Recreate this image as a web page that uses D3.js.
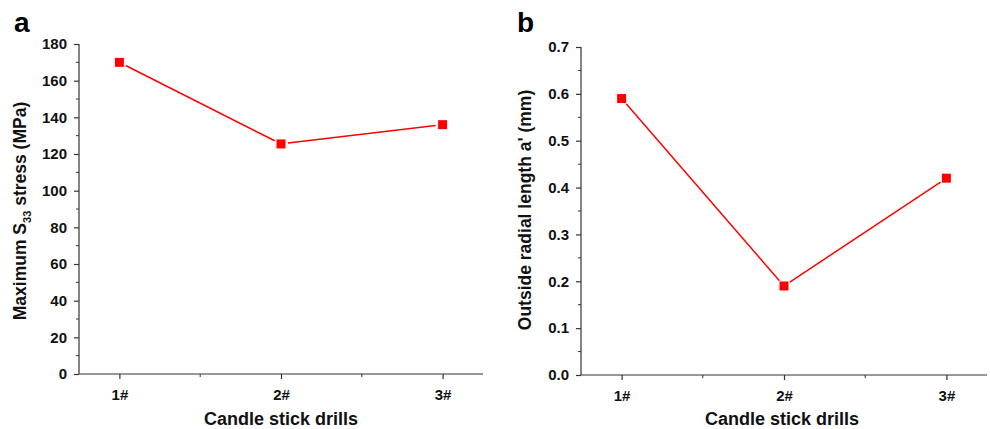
<!DOCTYPE html>
<html>
<head>
<meta charset="utf-8">
<script src="https://cdn.jsdelivr.net/npm/d3@7"></script>
<style>
  body { margin: 0; background: #fff; }
  text { font-family: Arial, 'Liberation Sans', sans-serif; font-weight: bold; }
</style>
</head>
<body>
<div id="chart"></div>
<script>
// data
let drills = ['1#', '2#', '3#']
let stress = [170, 125.5, 136]
let radialLength = [0.59, 0.19, 0.42]
let stressTicks = [0, 20, 40, 60, 80, 100, 120, 140, 160, 180]
let lengthTicks = [0, 0.1, 0.2, 0.3, 0.4, 0.5, 0.6, 0.7]

let width = 990
let height = 429

let svg = d3
  .select('#chart')
  .append('svg')
  .attr('width', width)
  .attr('height', height)

let axisColor = '#333'

function drawPanel(opts) {
  let g = svg.append('g')

  let x = d3.scaleLinear().domain([0.75, 3.25]).range([opts.left, opts.right])
  let y = d3.scaleLinear().domain(opts.domain).range([opts.bottom, opts.top])

  // y axis
  let yAxis = d3
    .axisLeft(y)
    .tickValues(opts.ticks)
    .tickFormat(opts.format)
    .tickSize(5)
    .tickPadding(7)
  let ya = g
    .append('g')
    .attr('transform', `translate(${opts.left},0)`)
    .call(yAxis)
  ya.select('.domain').attr('d', `M0,${opts.top}V${opts.bottom}`)

  // minor y ticks
  let minorY = d3.pairs(opts.ticks).map(p => (p[0] + p[1]) / 2)
  g.selectAll('.minor-y')
    .data(minorY)
    .enter()
    .append('line')
    .attr('x1', opts.left - 3)
    .attr('x2', opts.left)
    .attr('y1', d => y(d))
    .attr('y2', d => y(d))
    .attr('stroke', axisColor)

  // x axis
  let xAxis = d3
    .axisBottom(x)
    .tickValues([1, 2, 3])
    .tickFormat((d, i) => drills[i])
    .tickSize(5)
    .tickPadding(10)
  let xa = g
    .append('g')
    .attr('transform', `translate(0,${opts.bottom})`)
    .call(xAxis)
  xa.select('.domain').attr('d', `M${opts.left},0H${opts.right}`)

  g.selectAll('.minor-x')
    .data([1.5, 2.5])
    .enter()
    .append('line')
    .attr('x1', d => x(d))
    .attr('x2', d => x(d))
    .attr('y1', opts.bottom)
    .attr('y2', opts.bottom + 3)
    .attr('stroke', axisColor)

  g.selectAll('.domain, .tick line').attr('stroke', axisColor).attr('stroke-width', 1.2)
  g.selectAll('.tick text')
    .attr('fill', '#111')
    .style('font-size', '15px')
    .style('font-weight', 'bold')

  // line, broken a little at each marker like the original
  let pts = opts.values.map((v, i) => [x(i + 1), y(v)])
  d3.pairs(pts).forEach(([a, b]) => {
    let dx = b[0] - a[0]
    let dy = b[1] - a[1]
    let len = Math.sqrt(dx * dx + dy * dy)
    let gap = 7
    g.append('line')
      .attr('x1', a[0] + (dx / len) * gap)
      .attr('y1', a[1] + (dy / len) * gap)
      .attr('x2', b[0] - (dx / len) * gap)
      .attr('y2', b[1] - (dy / len) * gap)
      .attr('stroke', '#ff0000')
      .attr('stroke-width', 1.5)
  })

  g.selectAll('.marker')
    .data(opts.values)
    .enter()
    .append('rect')
    .attr('x', (d, i) => x(i + 1) - 4.5)
    .attr('y', d => y(d) - 4.5)
    .attr('width', 9)
    .attr('height', 9)
    .attr('fill', '#ff0000')

  // axis titles
  g.append('text')
    .attr('x', (opts.left + opts.right) / 2 + opts.titleShift)
    .attr('y', 425)
    .attr('text-anchor', 'middle')
    .style('font-size', '18px')
    .attr('fill', '#111')
    .text('Candle stick drills')

  let yl = g
    .append('text')
    .attr('transform', `translate(${opts.labelX},${opts.labelY}) rotate(-90)`)
    .attr('text-anchor', 'middle')
    .style('font-size', '17.5px')
    .attr('fill', '#111')
  opts.label(yl)

  // panel letter
  g.append('text')
    .attr('x', opts.letterX)
    .attr('y', 32)
    .style('font-size', '28px')
    .attr('fill', '#000')
    .text(opts.letter)
}

drawPanel({
  left: 79,
  right: 483,
  top: 44,
  bottom: 374,
  domain: [0, 180],
  ticks: stressTicks,
  format: d3.format('d'),
  values: stress,
  labelX: 26,
  labelY: 211,
  titleShift: 0,
  letter: 'a',
  letterX: 14,
  label: t => {
    t.append('tspan').text('Maximum S')
    t.append('tspan').style('font-size', '11px').attr('dy', 5).text('33')
    t.append('tspan').attr('dy', -5).text(' stress (MPa)')
  }
})

drawPanel({
  left: 581,
  right: 987,
  top: 47,
  bottom: 375,
  domain: [0, 0.7],
  ticks: lengthTicks,
  format: d3.format('.1f'),
  values: radialLength,
  labelX: 531,
  labelY: 210,
  titleShift: -2,
  letter: 'b',
  letterX: 517,
  label: t => {
    t.text("Outside radial length a' (mm)")
  }
})
</script>
</body>
</html>
